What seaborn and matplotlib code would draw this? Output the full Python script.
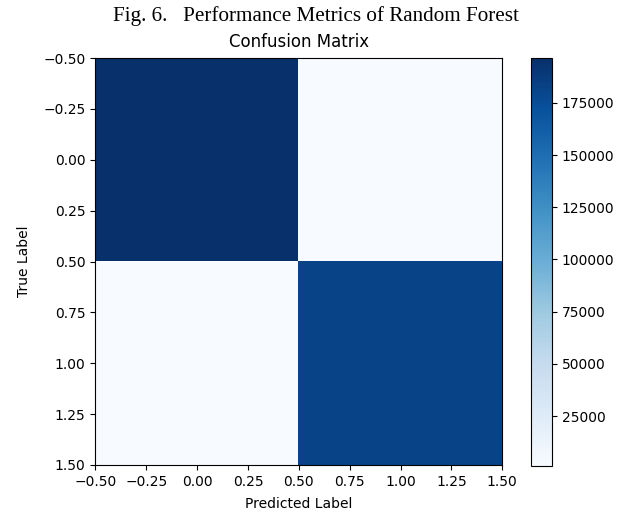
import numpy as np
import matplotlib
matplotlib.use("Agg")
import matplotlib.pyplot as plt
import seaborn as sns

# confusion matrix values
true_labels = [0, 1]
pred_labels = [0, 1]
row_true_0 = [196500, 1200]
row_true_1 = [1500, 182000]

cm = np.array([row_true_0, row_true_1])

cmap = sns.color_palette("Blues", as_cmap=True)

fig = plt.figure(figsize=(6.32, 5.17), dpi=100)
ax = fig.add_axes([0.150, 0.1006, 0.6456, 0.787])
cax = fig.add_axes([0.840, 0.099, 0.0335, 0.789])

im = ax.imshow(cm, cmap=cmap, interpolation="nearest")
ax.set_title("Confusion Matrix", fontsize=12, pad=8)
ax.set_xlabel("Predicted Label", labelpad=6)
ax.set_ylabel("True Label", labelpad=9)
fig.colorbar(im, cax=cax)

fig.text(0.5, 0.968, "Fig. 6.   Performance Metrics of Random Forest",
         ha="center", va="center", fontsize=15.2, family="Liberation Serif")

fig.savefig("out.png", dpi=100)
